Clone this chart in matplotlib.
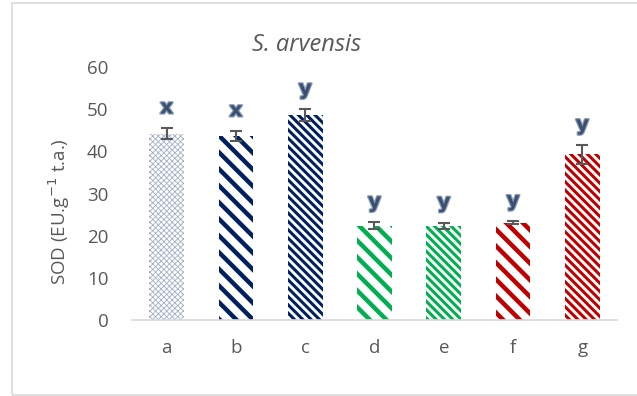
import matplotlib

matplotlib.use("Agg")
import matplotlib.pyplot as plt
import matplotlib.patheffects as pe
from matplotlib.patches import Rectangle

categories = ["a", "b", "c", "d", "e", "f", "g"]
sod = [44.2, 43.6, 48.6, 22.4, 22.4, 23.1, 39.3]
sod_err = [1.3, 1.2, 1.4, 0.8, 0.7, 0.4, 2.2]
letters = ["x", "x", "y", "y", "y", "y", "y"]

colors = ["#A3B0C6", "#002060", "#002060", "#00B050", "#00B050", "#C00000", "#C00000"]
hatches = ["xxxxxx", "\\\\", "\\\\\\\\", "\\\\", "\\\\\\\\", "\\\\", "\\\\\\\\"]
hatch_lw = [0.6, 3.2, 2.2, 3.2, 2.2, 3.2, 2.2]

plt.rcParams["font.family"] = ["Open Sans", "DejaVu Sans"]

fig = plt.figure(figsize=(6.37, 3.96), dpi=100)
ax = fig.add_axes([0.2072, 0.1919, 0.7614, 0.6389])

x = range(len(categories))
for i in x:
    with plt.rc_context({"hatch.linewidth": hatch_lw[i], "hatch.color": colors[i]}):
        bars = ax.bar(i, sod[i], width=0.5, color="white", edgecolor=colors[i],
                      hatch=hatches[i], linewidth=0)
    for b in bars:
        if hasattr(b, "set_hatch_linewidth"):
            b.set_hatch_linewidth(hatch_lw[i])

ax.errorbar(list(x), sod, yerr=sod_err, fmt="none", ecolor="#595959",
            elinewidth=1.5, capsize=4, capthick=1.5)

for i in x:
    ax.text(i, sod[i] + sod_err[i] + 4.8, letters[i], ha="center", va="center",
            fontsize=14.5, fontweight="bold", color="#3A5070", family="DejaVu Sans",
            path_effects=[pe.withStroke(linewidth=1.8, foreground="#8C9DB5")])

ax.set_xlim(-0.5, 6.5)
ax.set_ylim(0, 60)
ax.set_yticks(range(0, 61, 10))
ax.set_xticks(list(x))
ax.set_xticklabels(categories)
ax.tick_params(axis="both", length=0, labelsize=13.5, labelcolor="#595959")
ax.tick_params(axis="y", pad=17)
ax.tick_params(axis="x", pad=14)
for s in ["top", "right", "left"]:
    ax.spines[s].set_visible(False)
ax.spines["bottom"].set_color("#D9D9D9")
ax.spines["bottom"].set_linewidth(1.2)

ax.set_ylabel("SOD (EU.g$^{-1}$ t.a.)", fontsize=13.5, color="#595959")
ax.yaxis.set_label_coords(-0.123, 0.43)
fig.text(0.482, 0.887, "S. arvensis", ha="center", va="center", fontsize=17,
         style="italic", color="#595959")

fig.patches.append(Rectangle((12 / 637, 1.5 / 396), 1.0, 392 / 396,
                             transform=fig.transFigure, fill=False,
                             edgecolor="#D9D9D9", linewidth=1.2))

fig.savefig("out.png", dpi=100)
